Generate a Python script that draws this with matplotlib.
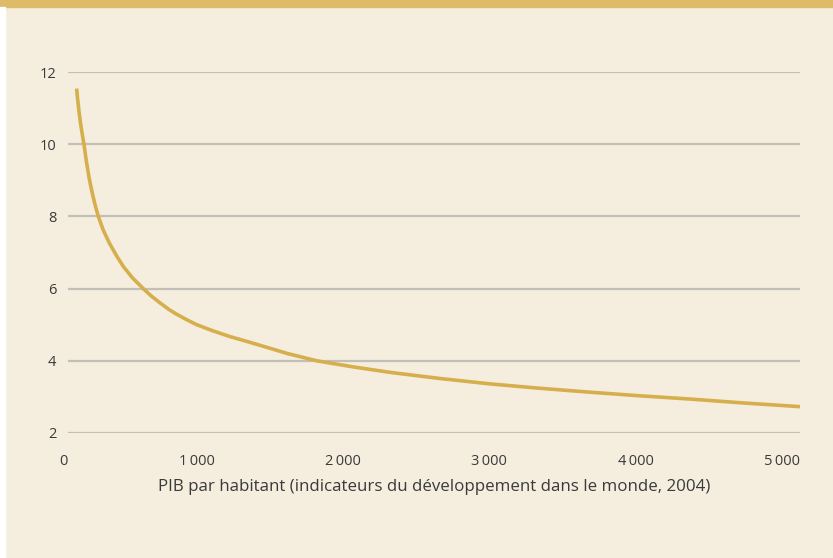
import matplotlib
matplotlib.use("Agg")
import matplotlib.pyplot as plt
from matplotlib.patches import Rectangle

# values
gdp = [59, 65, 75, 85, 97, 109, 125, 145, 165, 185, 207, 240, 280, 330, 380,
       440, 514, 570, 630, 690, 742, 810, 879, 990, 1107, 1210, 1311, 1500,
       1699, 1950, 2199, 2540, 2883, 3220, 3566, 3907, 4250, 4620, 5000]
rate = [11.54, 11.28, 10.91, 10.60, 10.28, 10.0, 9.54, 9.05, 8.66, 8.32, 8.0,
        7.63, 7.28, 6.92, 6.60, 6.30, 6.0, 5.79, 5.60, 5.42, 5.29, 5.14, 5.0,
        4.83, 4.67, 4.55, 4.43, 4.20, 4.0, 3.83, 3.68, 3.51, 3.36, 3.24, 3.13,
        3.03, 2.94, 2.83, 2.73]

x_ticks = [0, 1000, 2000, 3000, 4000, 5000]
x_labels = ["0", "1\u2009000", "2\u2009000", "3\u2009000", "4\u2009000", "5\u2009000"]
y_ticks = [2, 4, 6, 8, 10, 12]
x_title = "PIB par habitant (indicateurs du développement dans le monde, 2004)"

bg = "#F5EEDF"
gold = "#D6AF4C"
grid = "#C2BFB6"
txt = "#3A3A3A"

plt.rcParams["font.family"] = ["Open Sans", "DejaVu Sans"]

fig = plt.figure(figsize=(8.33, 5.58), dpi=100, facecolor=bg)
ax = fig.add_axes([68 / 833, 1 - 433 / 558, 732 / 833, 361 / 558])
ax.set_facecolor(bg)

# top golden band and thin white left strip
fig.patches.append(Rectangle((0, 1 - 7 / 558), 1, 7 / 558, transform=fig.transFigure,
                             color="#DDBB68", zorder=0))
fig.patches.append(Rectangle((0, 0), 5 / 833, 1 - 7 / 558, transform=fig.transFigure,
                             color="white", zorder=0))

for yv in y_ticks:
    ax.axhline(yv, color=grid, lw=1.6, zorder=1)

ax.plot(gdp, rate, color=gold, lw=2.6, solid_capstyle="butt",
        solid_joinstyle="round", zorder=3)

ax.set_xlim(0, 5000)
ax.set_ylim(2, 12)
ax.set_xticks(x_ticks)
ax.set_xticklabels(x_labels, ha="right")
ax.set_yticks(y_ticks)
ax.tick_params(axis="both", length=0, labelsize=10.5, colors=txt)
ax.tick_params(axis="y", pad=8.5)
ax.tick_params(axis="x", pad=15)
for s in ax.spines.values():
    s.set_visible(False)

ax.set_xlabel(x_title, fontsize=12.2, color=txt, labelpad=7)

fig.savefig("out.png", dpi=100, facecolor=bg)
